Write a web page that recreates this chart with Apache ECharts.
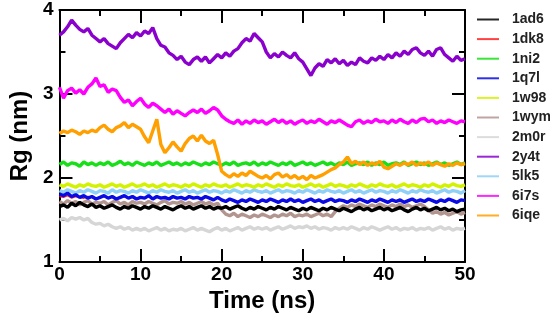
<!DOCTYPE html>
<html><head><meta charset="utf-8">
<script src="https://cdn.jsdelivr.net/npm/echarts@6/dist/echarts.min.js"></script>
<style>html,body{margin:0;padding:0;background:#fff}#c{width:550px;height:320px}</style>
</head><body><div id="c"></div>
<script>
// Sampling grid: 0..50 ns every 0.5 ns (101 samples per trajectory)
const STEP = 0.5;
const NPTS = 101;
const time = [];
for (let i = 0; i < NPTS; i++) time.push(i * STEP);

const seriesNames = ['1ad6','1dk8','1ni2','1q7l','1w98','1wym','2m0r','2y4t','5lk5','6i7s','6iqe'];
const xTicks = [0,10,20,30,40,50];
const yTicks = [1,2,3,4];

const rg_1ad6 = [1.66,1.68,1.65,1.70,1.67,1.71,1.68,1.66,1.69,1.65,
 1.67,1.64,1.66,1.68,1.65,1.63,1.66,1.64,1.67,1.65,
 1.63,1.66,1.64,1.67,1.65,1.63,1.66,1.64,1.62,1.65,
 1.67,1.64,1.66,1.63,1.65,1.67,1.64,1.66,1.63,1.65,
 1.64,1.66,1.63,1.65,1.67,1.64,1.62,1.65,1.63,1.66,
 1.64,1.62,1.65,1.63,1.66,1.64,1.62,1.65,1.63,1.61,
 1.64,1.62,1.65,1.63,1.61,1.64,1.62,1.65,1.63,1.61,
 1.64,1.62,1.60,1.63,1.65,1.62,1.64,1.61,1.63,1.65,
 1.62,1.64,1.61,1.63,1.65,1.62,1.60,1.63,1.65,1.62,
 1.64,1.61,1.63,1.65,1.62,1.64,1.61,1.63,1.60,1.62,1.63];
const rg_1dk8 = [1.78,1.77,1.79,1.76,1.78,1.77,1.76,1.78,1.77,1.76,
 1.77,1.78,1.76,1.77,1.76,1.77,1.78,1.76,1.77,1.76,
 1.77,1.76,1.78,1.76,1.77,1.76,1.77,1.76,1.77,1.76,
 1.77,1.76,1.77,1.76,1.77,1.76,1.77,1.76,1.75,1.76,
 1.74,1.73,1.74,1.73,1.72,1.74,1.73,1.74,1.73,1.72,
 1.74,1.73,1.74,1.73,1.72,1.74,1.73,1.74,1.73,1.74,
 1.72,1.73,1.74,1.73,1.74,1.72,1.73,1.74,1.73,1.74,
 1.73,1.72,1.74,1.73,1.74,1.73,1.72,1.74,1.73,1.74,
 1.73,1.72,1.74,1.73,1.74,1.72,1.73,1.74,1.73,1.74,
 1.73,1.74,1.73,1.72,1.74,1.73,1.74,1.73,1.72,1.74,1.73];
const rg_1ni2 = [2.16,2.19,2.15,2.18,2.17,2.14,2.19,2.16,2.18,2.15,
 2.18,2.16,2.19,2.15,2.17,2.20,2.16,2.18,2.15,2.19,
 2.17,2.15,2.18,2.16,2.19,2.15,2.17,2.19,2.16,2.18,
 2.15,2.18,2.16,2.19,2.17,2.15,2.18,2.16,2.19,2.17,
 2.15,2.18,2.16,2.19,2.15,2.17,2.18,2.16,2.19,2.15,
 2.18,2.16,2.19,2.17,2.15,2.18,2.16,2.19,2.15,2.17,
 2.19,2.16,2.18,2.15,2.17,2.19,2.16,2.18,2.15,2.18,
 2.16,2.19,2.15,2.17,2.18,2.16,2.19,2.15,2.18,2.16,
 2.19,2.15,2.17,2.18,2.16,2.19,2.15,2.17,2.19,2.16,
 2.18,2.15,2.17,2.19,2.16,2.18,2.15,2.17,2.19,2.16,2.18];
const rg_1q7l = [1.81,1.79,1.82,1.78,1.80,1.77,1.79,1.76,1.78,1.75,
 1.77,1.79,1.76,1.78,1.75,1.77,1.79,1.76,1.78,1.75,
 1.77,1.76,1.79,1.75,1.78,1.76,1.77,1.75,1.78,1.76,
 1.77,1.75,1.78,1.76,1.77,1.75,1.78,1.76,1.74,1.77,
 1.74,1.72,1.75,1.73,1.71,1.74,1.72,1.75,1.73,1.71,
 1.74,1.72,1.75,1.73,1.71,1.74,1.72,1.75,1.72,1.74,
 1.71,1.73,1.75,1.72,1.74,1.71,1.73,1.75,1.72,1.74,
 1.73,1.71,1.74,1.72,1.75,1.73,1.71,1.74,1.72,1.75,
 1.73,1.71,1.74,1.72,1.74,1.71,1.73,1.75,1.72,1.74,
 1.72,1.75,1.73,1.71,1.74,1.72,1.75,1.73,1.71,1.74,1.73];
const rg_1w98 = [1.92,1.90,1.93,1.91,1.89,1.92,1.90,1.93,1.91,1.90,
 1.92,1.89,1.91,1.93,1.90,1.92,1.89,1.91,1.93,1.90,
 1.91,1.93,1.90,1.92,1.89,1.91,1.93,1.90,1.92,1.91,
 1.89,1.92,1.90,1.93,1.91,1.89,1.92,1.90,1.93,1.91,
 1.90,1.92,1.89,1.91,1.93,1.90,1.92,1.91,1.89,1.92,
 1.90,1.93,1.91,1.89,1.92,1.90,1.93,1.91,1.90,1.92,
 1.89,1.91,1.93,1.90,1.92,1.89,1.91,1.93,1.90,1.92,
 1.91,1.89,1.92,1.90,1.93,1.91,1.89,1.92,1.90,1.93,
 1.91,1.90,1.92,1.89,1.91,1.93,1.90,1.92,1.91,1.89,
 1.92,1.90,1.93,1.91,1.89,1.92,1.90,1.93,1.91,1.90,1.92];
const rg_1wym = [1.72,1.69,1.73,1.70,1.72,1.68,1.71,1.73,1.69,1.71,
 1.70,1.72,1.68,1.71,1.73,1.69,1.71,1.68,1.72,1.70,
 1.71,1.69,1.72,1.70,1.68,1.71,1.73,1.69,1.71,1.70,
 1.72,1.69,1.71,1.68,1.70,1.72,1.69,1.71,1.68,1.70,
 1.62,1.57,1.55,1.58,1.54,1.57,1.55,1.53,1.56,1.54,
 1.57,1.55,1.53,1.56,1.54,1.57,1.55,1.58,1.54,1.56,
 1.55,1.57,1.54,1.56,1.58,1.55,1.57,1.54,1.60,1.64,
 1.67,1.65,1.68,1.66,1.69,1.67,1.65,1.68,1.66,1.69,
 1.67,1.65,1.68,1.66,1.69,1.66,1.68,1.65,1.67,1.69,
 1.66,1.62,1.58,1.60,1.57,1.59,1.56,1.58,1.60,1.57,1.59];
const rg_2m0r = [1.50,1.52,1.49,1.53,1.51,1.53,1.50,1.52,1.47,1.45,
 1.46,1.43,1.45,1.42,1.40,1.42,1.39,1.41,1.38,1.40,
 1.38,1.40,1.37,1.39,1.41,1.38,1.40,1.37,1.39,1.38,
 1.40,1.37,1.39,1.41,1.38,1.40,1.38,1.36,1.39,1.41,
 1.38,1.40,1.37,1.39,1.41,1.38,1.40,1.42,1.39,1.41,
 1.39,1.41,1.38,1.40,1.42,1.39,1.41,1.43,1.40,1.42,
 1.41,1.43,1.40,1.42,1.39,1.41,1.40,1.38,1.41,1.39,
 1.41,1.39,1.42,1.40,1.38,1.41,1.39,1.42,1.40,1.38,
 1.40,1.42,1.39,1.41,1.38,1.40,1.39,1.41,1.38,1.40,
 1.39,1.41,1.38,1.40,1.42,1.39,1.41,1.38,1.40,1.39,1.40];
const rg_2y4t = [3.70,3.74,3.80,3.88,3.82,3.77,3.74,3.78,3.70,3.66,
 3.62,3.66,3.60,3.57,3.54,3.61,3.66,3.71,3.67,3.73,
 3.69,3.75,3.72,3.79,3.66,3.58,3.56,3.49,3.46,3.41,
 3.45,3.38,3.35,3.41,3.44,3.39,3.44,3.37,3.42,3.47,
 3.43,3.49,3.45,3.51,3.54,3.61,3.66,3.63,3.72,3.67,
 3.62,3.50,3.43,3.48,3.44,3.50,3.46,3.43,3.49,3.42,
 3.38,3.30,3.22,3.31,3.36,3.33,3.41,3.37,3.42,3.36,
 3.40,3.34,3.38,3.35,3.43,3.39,3.37,3.43,3.40,3.45,
 3.41,3.47,3.43,3.49,3.45,3.51,3.47,3.53,3.55,3.49,
 3.46,3.51,3.45,3.53,3.55,3.47,3.43,3.39,3.45,3.40,3.42];
const rg_5lk5 = [1.85,1.83,1.86,1.84,1.82,1.85,1.83,1.86,1.84,1.82,
 1.85,1.84,1.82,1.86,1.83,1.85,1.84,1.82,1.85,1.83,
 1.86,1.84,1.82,1.85,1.83,1.86,1.84,1.83,1.85,1.82,
 1.84,1.86,1.83,1.85,1.82,1.84,1.86,1.83,1.85,1.84,
 1.82,1.85,1.83,1.86,1.84,1.82,1.85,1.83,1.86,1.84,
 1.83,1.85,1.82,1.84,1.86,1.83,1.85,1.84,1.82,1.85,
 1.83,1.86,1.84,1.82,1.85,1.83,1.86,1.84,1.83,1.85,
 1.82,1.84,1.86,1.83,1.85,1.82,1.84,1.86,1.83,1.85,
 1.84,1.82,1.85,1.83,1.86,1.84,1.82,1.85,1.83,1.86,
 1.84,1.83,1.85,1.82,1.84,1.86,1.83,1.85,1.84,1.82,1.85];
const rg_6i7s = [3.08,2.95,3.04,3.07,3.01,3.05,3.00,3.08,3.12,3.19,
 3.09,3.11,3.02,3.06,3.04,2.96,2.90,2.93,2.86,2.91,
 2.95,2.88,2.84,2.89,2.86,2.82,2.78,2.82,2.76,2.80,
 2.77,2.74,2.78,2.81,2.78,2.82,2.77,2.80,2.84,2.81,
 2.74,2.70,2.67,2.65,2.69,2.64,2.68,2.65,2.69,2.66,
 2.68,2.64,2.67,2.70,2.66,2.69,2.65,2.68,2.64,2.67,
 2.69,2.65,2.68,2.66,2.70,2.67,2.64,2.68,2.66,2.69,
 2.66,2.63,2.61,2.67,2.69,2.65,2.68,2.66,2.70,2.67,
 2.68,2.65,2.69,2.66,2.70,2.67,2.65,2.69,2.66,2.70,
 2.71,2.67,2.69,2.65,2.68,2.66,2.69,2.67,2.65,2.68,2.67];
const rg_6iqe = [2.53,2.56,2.54,2.57,2.55,2.52,2.56,2.54,2.57,2.55,
 2.60,2.63,2.58,2.55,2.60,2.62,2.66,2.60,2.64,2.61,
 2.58,2.49,2.42,2.56,2.70,2.40,2.30,2.36,2.43,2.37,
 2.32,2.41,2.47,2.50,2.44,2.51,2.44,2.41,2.45,2.28,
 2.08,2.04,2.01,2.05,2.02,2.06,2.03,2.08,2.05,2.02,
 2.00,2.03,1.99,2.04,2.06,2.01,2.04,2.00,2.03,1.99,
 2.02,1.98,2.03,2.00,2.02,2.04,2.07,2.10,2.12,2.16,
 2.19,2.25,2.17,2.20,2.16,2.19,2.15,2.18,2.16,2.20,
 2.13,2.11,2.14,2.17,2.15,2.18,2.16,2.19,2.15,2.18,
 2.16,2.19,2.15,2.18,2.16,2.14,2.17,2.15,2.18,2.16,2.17];

const colors = {
  '1ad6':'#000000','1dk8':'#ff2020','1ni2':'#18e018','1q7l':'#0a0ae6','1w98':'#d2f200',
  '1wym':'#b39590','2m0r':'#d6d6d6','2y4t':'#8a00cc','5lk5':'#8fd0f8','6i7s':'#ff00ff','6iqe':'#ffa000'
};
const dataByName = {
  '1ad6':rg_1ad6,'1dk8':rg_1dk8,'1ni2':rg_1ni2,'1q7l':rg_1q7l,'1w98':rg_1w98,'1wym':rg_1wym,
  '2m0r':rg_2m0r,'2y4t':rg_2y4t,'5lk5':rg_5lk5,'6i7s':rg_6i7s,'6iqe':rg_6iqe
};
// drawing order (later = on top)
const drawOrder = ['2m0r','1dk8','5lk5','1w98','1wym','1q7l','1ad6','1ni2','6iqe','6i7s','2y4t'];

const FONT = 'Liberation Sans, Arial, Helvetica, sans-serif';
const series = drawOrder.map(n => ({
  name: n, type: 'line', showSymbol: false, symbol: 'none',
  xAxisIndex: 0, yAxisIndex: 0,
  color: colors[n],
  lineStyle: { width: n === '1dk8' ? 1.5 : 3.4, color: colors[n], join: 'bevel' },
  data: time.map((t, i) => [t, dataByName[n][i]]),
  animation: false
}));

function axisCommon(extra) {
  return Object.assign({
    type: 'value',
    axisLine: { show: true, onZero: false, lineStyle: { color: '#000', width: 2 } },
    axisTick: { show: true, inside: true, length: 13, lineStyle: { color: '#000', width: 2 } },
    minorTick: { show: true, splitNumber: 2, length: 6, lineStyle: { color: '#000', width: 2 } },
    splitLine: { show: false },
    minorSplitLine: { show: false }
  }, extra);
}

const chart = echarts.init(document.getElementById('c'), null, { renderer: 'canvas' });
chart.setOption({
  animation: false,
  backgroundColor: '#fff',
  grid: { left: 51, right: 85, top: 10, bottom: 58, containLabel: false },
  xAxis: [
    axisCommon({
      position: 'bottom', min: xTicks[0], max: xTicks[xTicks.length - 1], interval: 10,
      axisLabel: { color: '#000', fontSize: 19, fontWeight: 'bold', fontFamily: FONT, margin: 3 },
      name: 'Time (ns)', nameLocation: 'middle', nameGap: 25,
      nameTextStyle: { color: '#000', fontSize: 24, fontWeight: 'bold', fontFamily: FONT }
    }),
    axisCommon({
      position: 'top', min: xTicks[0], max: xTicks[xTicks.length - 1], interval: 10,
      axisLabel: { show: false }
    })
  ],
  yAxis: [
    axisCommon({
      position: 'left', min: yTicks[0], max: yTicks[yTicks.length - 1], interval: 1,
      axisLabel: { color: '#000', fontSize: 19, fontWeight: 'bold', fontFamily: FONT, margin: 6 },
      name: 'Rg (nm)', nameLocation: 'middle', nameGap: 24,
      nameTextStyle: { color: '#000', fontSize: 24, fontWeight: 'bold', fontFamily: FONT }
    }),
    axisCommon({
      position: 'right', min: yTicks[0], max: yTicks[yTicks.length - 1], interval: 1,
      axisLabel: { show: false }
    })
  ],
  legend: {
    orient: 'vertical', left: 472, top: 7,
    data: seriesNames.map(n => ({
      name: n, icon: 'rect',
      itemStyle: { color: colors[n], borderWidth: 0, opacity: 0.85 }
    })),
    itemWidth: 22, itemHeight: 2, itemGap: 4.6,
    textStyle: { color: '#222', fontSize: 14, fontWeight: 'bold', fontFamily: FONT, lineHeight: 15, padding: [0, 0, 0, 8] },
    selectedMode: false
  },
  series: series
});
</script>
</body></html>
